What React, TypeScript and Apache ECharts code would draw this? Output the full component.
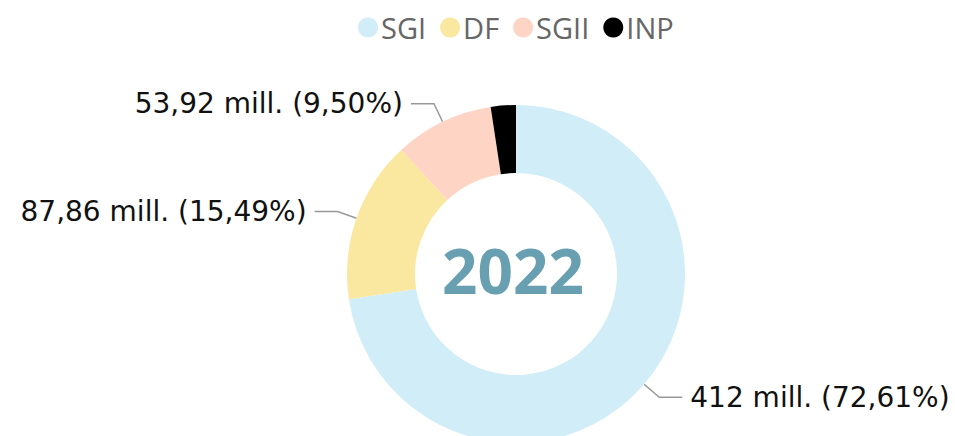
import React, { useEffect, useRef } from "react";
import * as echarts from "echarts";

const categories = ["SGI", "DF", "SGII", "INP"];
const values = [412, 87.86, 53.92, 13.6];
const colors = ["#d1edf7", "#fae8a1", "#fed5c5", "#000000"];
const showLabel = [true, true, true, false];
const centerText = "2022";

export default function App() {
  const ref = useRef<HTMLDivElement>(null);
  useEffect(() => {
    document.body.style.margin = "0";
    const chart = echarts.init(ref.current!, null, { renderer: "svg" });
    const data = categories.map((name, i) => ({
      name,
      value: values[i],
      itemStyle: { color: colors[i] },
      label: { show: showLabel[i] },
      labelLine: { show: showLabel[i] },
    }));
    chart.setOption({
      animation: false,
      legend: {
        top: 8,
        left: 353,
        icon: "circle",
        itemWidth: 20,
        itemHeight: 20,
        itemGap: 14,
        data: categories,
        textStyle: { fontFamily: "Open Sans", fontSize: 29, color: "#666666", padding: [0, 0, 0, -2] },
      },
      graphic: [
        {
          type: "text",
          x: 513,
          y: 270,
          style: {
            text: centerText,
            fontFamily: "Open Sans",
            fontWeight: "bold",
            fontSize: 62,
            fill: "#68a0b1",
            textAlign: "center",
            textVerticalAlign: "middle",
          },
        },
      ],
      series: [
        {
          type: "pie",
          center: [516, 274],
          radius: [101, 169],
          startAngle: 90,
          clockwise: true,
          data,
          label: {
            fontFamily: "DejaVu Sans",
            fontSize: 28,
            color: "#111111",
            overflow: "none",
            formatter: (p: any) =>
              `${String(p.value).replace(".", ",")} mill. (${p.percent.toFixed(2).replace(".", ",")}%)`,
            distanceToLabelLine: 8,
          },
          labelLine: {
            length: 20,
            length2: 23,
            lineStyle: { color: "#999999", width: 1.5 },
          },
        },
      ],
    });
    return () => chart.dispose();
  }, []);
  return <div ref={ref} style={{ width: 955, height: 436 }} />;
}
